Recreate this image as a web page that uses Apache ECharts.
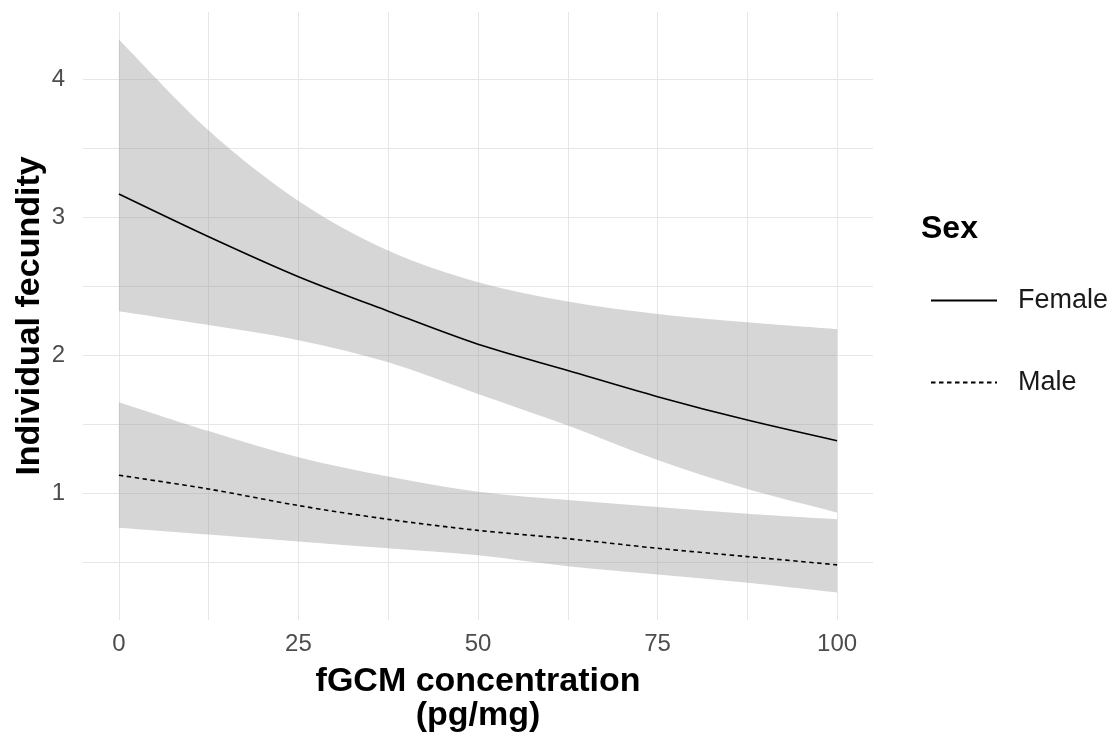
<!DOCTYPE html>
<html>
<head>
<meta charset="utf-8">
<script src="https://cdn.jsdelivr.net/npm/echarts@6/dist/echarts.min.js"></script>
<style>
  html, body { margin: 0; padding: 0; background: #fff; }
  #main { width: 1117px; height: 742px; }
</style>
</head>
<body>
<div id="main"></div>
<script>
var xs = [0, 12.5, 25, 37.5, 50, 62.5, 75, 87.5, 100];

var femaleFit   = [3.17, 2.86, 2.57, 2.32, 2.08, 1.89, 1.70, 1.53, 1.38];
var femaleUpper = [4.29, 3.63, 3.12, 2.76, 2.53, 2.39, 2.30, 2.24, 2.19];
var femaleLower = [2.32, 2.22, 2.11, 1.95, 1.72, 1.49, 1.24, 1.03, 0.86];

var maleFit   = [1.13, 1.03, 0.91, 0.81, 0.73, 0.67, 0.60, 0.54, 0.48];
var maleUpper = [1.66, 1.45, 1.26, 1.12, 1.01, 0.95, 0.90, 0.85, 0.81];
var maleLower = [0.75, 0.70, 0.65, 0.60, 0.55, 0.47, 0.41, 0.35, 0.28];

var xTicks = [0, 25, 50, 75, 100];
var xGrid  = [0, 12.5, 25, 37.5, 50, 62.5, 75, 87.5, 100];
var yTicks = [1, 2, 3, 4];
var yGrid  = [0.5, 1, 1.5, 2, 2.5, 3, 3.5, 4];

var pairs = function(vals) {
	return xs.map(function(x, i) { return [x, vals[i]]; });
};

// catmull-rom -> bezier through pixel points (drawing only)
var curveTo = function(pts) {
	var d = '';
	for (var i = 0; i < pts.length - 1; i++) {
		var p0 = pts[i - 1] || pts[i], p1 = pts[i], p2 = pts[i + 1], p3 = pts[i + 2] || p2;
		var c1x = p1[0] + (p2[0] - p0[0]) / 6, c1y = p1[1] + (p2[1] - p0[1]) / 6;
		var c2x = p2[0] - (p3[0] - p1[0]) / 6, c2y = p2[1] - (p3[1] - p1[1]) / 6;
		d += ' C' + c1x + ',' + c1y + ' ' + c2x + ',' + c2y + ' ' + p2[0] + ',' + p2[1];
	}
	return d;
};

var ribbon = function(name, lo, hi) {
	return {
		name: name, type: 'custom', silent: true, z: 1,
		data: xs.map(function(x, i) { return [x, lo[i], hi[i]]; }),
		encode: { x: 0, y: [1, 2] },
		renderItem: function(params, api) {
			if (params.dataIndex !== 0) return null;
			var top = xs.map(function(x, i) { return api.coord([x, hi[i]]); });
			var bot = xs.map(function(x, i) { return api.coord([x, lo[i]]); }).reverse();
			var d = 'M' + top[0][0] + ',' + top[0][1] + curveTo(top) +
				' L' + bot[0][0] + ',' + bot[0][1] + curveTo(bot) + ' Z';
			return {
				type: 'path',
				shape: { pathData: d },
				style: { fill: 'rgba(153,153,153,0.4)', stroke: null }
			};
		}
	};
};

var myChart = echarts.init(document.getElementById('main'));

var option = {
	animation: false,
	backgroundColor: '#fff',
	textStyle: { fontFamily: 'Liberation Sans, Arial, sans-serif' },
	title: {
		text: 'Sex',
		left: 916, top: 208,
		textStyle: { fontSize: 32, fontWeight: 'bold', color: '#000' }
	},
	legend: {
		data: ['Female', 'Male'],
		orient: 'vertical',
		left: 925, top: 282,
		itemWidth: 66, itemHeight: 20, itemGap: 55,
		itemStyle: { opacity: 0 },
		textStyle: { fontSize: 27, color: '#1a1a1a', padding: [0, 0, 0, 16] }
	},
	grid: { left: 83, right: 244, top: 12, bottom: 122, containLabel: false },
	xAxis: {
		type: 'value', min: -5, max: 105,
		name: 'fGCM concentration\n(pg/mg)',
		nameLocation: 'middle', nameGap: 45, nameMoveOverlap: false,
		nameTextStyle: { fontSize: 34, fontWeight: 'bold', color: '#000', lineHeight: 34 },
		axisLine: { show: false },
		axisTick: { show: false, customValues: xGrid },
		axisLabel: { customValues: xTicks, fontSize: 24, color: '#4d4d4d', margin: 12 },
		splitLine: { show: true, lineStyle: { color: '#e6e6e6', width: 1 } }
	},
	yAxis: {
		type: 'value', min: 0.08, max: 4.49,
		name: 'Individual fecundity',
		nameLocation: 'middle', nameRotate: 90, nameGap: 36, nameMoveOverlap: false,
		nameTextStyle: { fontSize: 34, fontWeight: 'bold', color: '#000' },
		axisLine: { show: false },
		axisTick: { show: false, customValues: yGrid },
		axisLabel: { customValues: yTicks, fontSize: 24, color: '#4d4d4d', margin: 18 },
		splitLine: { show: true, lineStyle: { color: '#e6e6e6', width: 1 } }
	},
	series: [
		ribbon('fBand', femaleLower, femaleUpper),
		ribbon('mBand', maleLower, maleUpper),
		{
			name: 'Female', type: 'line', data: pairs(femaleFit),
			smooth: 0.3, symbol: 'none', z: 3,
			lineStyle: { color: '#000', width: 1.6, type: 'solid' },
			itemStyle: { color: '#000' }
		},
		{
			name: 'Male', type: 'line', data: pairs(maleFit),
			smooth: 0.3, symbol: 'none', z: 3,
			lineStyle: { color: '#000', width: 1.6, type: [4.5, 3.5] },
			itemStyle: { color: '#000' }
		}
	]
};

myChart.setOption(option);
</script>
</body>
</html>
